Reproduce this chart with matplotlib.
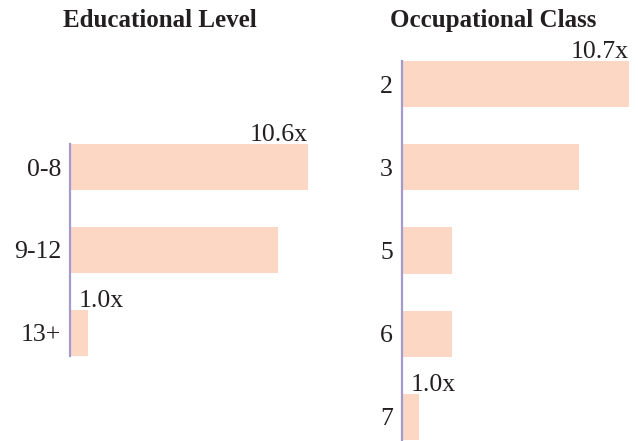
import matplotlib
matplotlib.use("Agg")
import matplotlib.pyplot as plt

edu_levels = ["0-8", "9-12", "13+"]
edu_ratios = [10.6, 9.3, 1.0]

occ_classes = ["2", "3", "5", "6", "7"]
occ_ratios = [10.7, 8.4, 2.5, 2.5, 1.0]

BAR_COLOR = "#FBD7C4"
AXIS_COLOR = "#A39BD0"
TEXT_COLOR = "#231F20"

plt.rcParams["font.family"] = ["Liberation Serif", "DejaVu Serif"]

W, H = 638, 441
fig = plt.figure(figsize=(W / 100, H / 100), dpi=100)


def px_axes(left, right, top, bottom):
    # axes rectangle given in pixel coords (origin top-left)
    return fig.add_axes([left / W, 1 - bottom / H, (right - left) / W, (bottom - top) / H])


def draw_panel(ax, labels, values):
    n = len(labels)
    ys = list(range(n))
    ax.barh(ys, values, height=0.555, color=BAR_COLOR, left=0)
    ax.set_xlim(0.2, max(values))
    ax.set_ylim(n - 1 + 0.28, -0.28)
    ax.set_yticks(ys)
    ax.set_yticklabels(labels, fontsize=18.5, color=TEXT_COLOR)
    ax.tick_params(axis="y", length=0, pad=6.5)
    ax.set_xticks([])
    for side in ["top", "right", "bottom"]:
        ax.spines[side].set_visible(False)
    ax.spines["left"].set_color(AXIS_COLOR)
    ax.spines["left"].set_linewidth(1.6)
    ax.patch.set_alpha(0)

    # largest value: label right-aligned at bar end
    i_max = values.index(max(values))
    ax.annotate(f"{values[i_max]:.1f}x", (values[i_max], ys[i_max] - 0.2775),
                xytext=(0, 2), textcoords="offset points", ha="right", va="baseline",
                fontsize=18.5, color=TEXT_COLOR, annotation_clip=False)
    # smallest value: label left-aligned near the axis
    i_min = values.index(min(values))
    ax.annotate(f"{values[i_min]:.1f}x", (0.2, ys[i_min] - 0.2775),
                xytext=(6.5, 2), textcoords="offset points", ha="left", va="baseline",
                fontsize=18.5, color=TEXT_COLOR, annotation_clip=False)


ax_edu = px_axes(70, 308, 144, 356)
draw_panel(ax_edu, edu_levels, edu_ratios)

ax_occ = px_axes(402, 629, 61, 440)
draw_panel(ax_occ, occ_classes, occ_ratios)

fig.text(160 / W, 1 - 27 / H, "Educational Level", ha="center", va="baseline",
         fontsize=18, fontweight="bold", color=TEXT_COLOR)
fig.text(493 / W, 1 - 27 / H, "Occupational Class", ha="center", va="baseline",
         fontsize=18, fontweight="bold", color=TEXT_COLOR)

fig.savefig("out.png", dpi=100)
